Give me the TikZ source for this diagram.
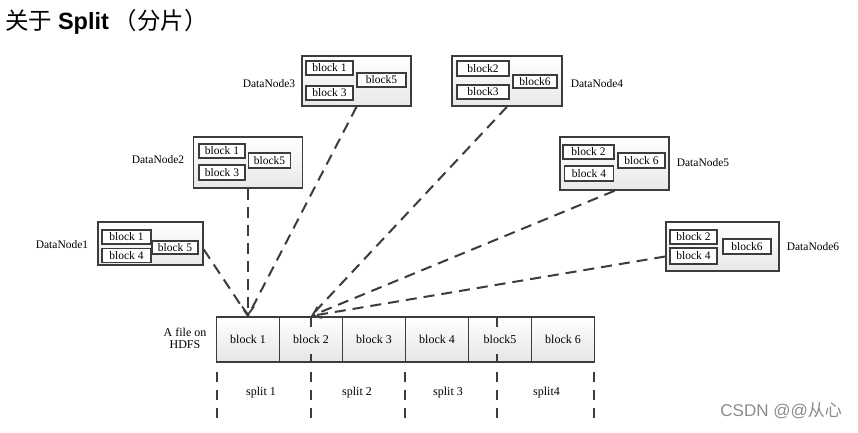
\documentclass[tikz,border=0pt]{standalone}
\usepackage{fontspec}
\setmainfont{Liberation Serif}
\newfontfamily\cjk{Noto Sans CJK SC}
\newfontfamily\arial{Liberation Sans}
\usetikzlibrary{arrows.meta}
\definecolor{edge}{HTML}{3C3C3C}
\tikzset{
 dnbox/.style={draw=edge, line width=1.6pt, top color=white, bottom color=black!9, inner sep=0pt},
 inblk/.style={draw=edge, line width=1.4pt, fill=white, inner sep=0pt, font=\fontsize{11.5}{11.5}\selectfont},
 fblk/.style={draw=edge, line width=1.5pt, top color=white, bottom color=black!10, inner sep=0pt, minimum width=63pt, minimum height=45pt, font=\fontsize{12}{12}\selectfont},
 dnlabel/.style={font=\fontsize{11.5}{11.5}\selectfont, inner sep=0pt},
 splitlabel/.style={font=\fontsize{12}{12}\selectfont, inner sep=0pt},
 conn/.style={draw=edge, line width=2pt, dash pattern=on 11pt off 7pt},
 tip/.style={-{Straight Barb[length=8pt,width=12pt,line width=1.8pt]}},
 splitline/.style={draw=edge, line width=2pt, dash pattern=on 10pt off 8pt},
 tick/.style={draw=edge, line width=2pt},
}
\begin{document}
\begin{tikzpicture}[x=1pt,y=-1pt]
\useasboundingbox (0,0) rectangle (858,433);
\fill[white] (0,0) rectangle (858,433);

% title
\node[anchor=base west, inner sep=0pt, font=\fontsize{23.5}{23.5}\selectfont] (title) at (5,30)
  {{\cjk 关于} {\arial\bfseries Split}\hspace{5pt}{\cjk （分片）}};

% DataNode1
\node[dnbox, minimum width=105pt, minimum height=43pt] (dn1) at (150.5,243.5) {};
\node[inblk, minimum width=49pt, minimum height=14pt] (dn1a) at (126.5,237) {block 1};
\node[inblk, minimum width=49pt, minimum height=14pt] (dn1b) at (126.5,255.5) {block 4};
\node[inblk, minimum width=46pt, minimum height=13pt] (dn1c) at (175,247.5) {block 5};
\node[dnlabel] (l1) at (62,245) {DataNode1};

% DataNode2
\node[dnbox, minimum width=109pt, minimum height=51pt] (dn2) at (248,162.5) {};
\node[inblk, minimum width=46pt, minimum height=14pt] (dn2a) at (222,151) {block 1};
\node[inblk, minimum width=46pt, minimum height=15pt] (dn2b) at (222,172.5) {block 3};
\node[inblk, minimum width=42pt, minimum height=15pt] (dn2c) at (269.5,160.5) {block5};
\node[dnlabel] (l2) at (158,160) {DataNode2};

% DataNode3
\node[dnbox, minimum width=109pt, minimum height=50pt] (dn3) at (356.5,81) {};
\node[inblk, minimum width=47pt, minimum height=14pt] (dn3a) at (329.5,68) {block 1};
\node[inblk, minimum width=47pt, minimum height=14pt] (dn3b) at (329.5,93) {block 3};
\node[inblk, minimum width=49pt, minimum height=14pt] (dn3c) at (381.5,80) {block5};
\node[dnlabel] (l3) at (269,84) {DataNode3};

% DataNode4
\node[dnbox, minimum width=110pt, minimum height=50pt] (dn4) at (507,81) {};
\node[inblk, minimum width=52pt, minimum height=15pt] (dn4a) at (483,68.5) {block2};
\node[inblk, minimum width=52pt, minimum height=14pt] (dn4b) at (483,92) {block3};
\node[inblk, minimum width=44pt, minimum height=13pt] (dn4c) at (535,81.5) {block6};
\node[dnlabel] (l4) at (597,84) {DataNode4};

% DataNode5
\node[dnbox, minimum width=109pt, minimum height=53pt] (dn5) at (614.5,163.5) {};
\node[inblk, minimum width=51pt, minimum height=14pt] (dn5a) at (588.5,152) {block 2};
\node[inblk, minimum width=49pt, minimum height=15pt] (dn5b) at (589,173.5) {block 4};
\node[inblk, minimum width=47pt, minimum height=15pt] (dn5c) at (641.5,160.5) {block 6};
\node[dnlabel] (l5) at (703,163) {DataNode5};

% DataNode6
\node[dnbox, minimum width=113pt, minimum height=49pt] (dn6) at (722.5,246.5) {};
\node[inblk, minimum width=47pt, minimum height=14pt] (dn6a) at (693.5,237) {block 2};
\node[inblk, minimum width=47pt, minimum height=16pt] (dn6b) at (693.5,256) {block 4};
\node[inblk, minimum width=48pt, minimum height=15pt] (dn6c) at (747,246.5) {block6};
\node[dnlabel] (l6) at (813,247) {DataNode6};

% file row
\node[fblk] (f1) at (248,339.5) {block 1};
\node[fblk] (f2) at (311,339.5) {block 2};
\node[fblk] (f3) at (374,339.5) {block 3};
\node[fblk] (f4) at (437,339.5) {block 4};
\node[fblk] (f5) at (500,339.5) {block5};
\node[fblk] (f6) at (563,339.5) {block 6};
\node[splitlabel, align=center] (hdfs) at (185,338) {A file on\\HDFS};

% connectors
\coordinate (t1) at (248,316);
\coordinate (t2) at (311,316);
\draw[conn] ([yshift=-6pt]dn1.east) -- (t1);
\draw[conn, tip] (dn2.south) -- (t1);
\draw[conn] (dn3.south) -- (t1);
\draw[conn] (dn4.south) -- (t2);
\draw[conn, tip] (dn5.south) -- (t2);
\draw[conn] ([yshift=-10pt]dn6.west) -- (t2);

% split marks through blocks
\draw[tick] (f2.north) -- ++(0,11);
\draw[tick] (f2.south) -- ++(0,-9);
\draw[tick] ([xshift=-3pt]f5.north) -- ++(0,11);
\draw[tick] ([xshift=-3pt]f5.south) -- ++(0,-9);

% split lines
\coordinate (s0) at (217,372);
\coordinate (s1) at (311,372);
\coordinate (s2) at (405,372);
\coordinate (s3) at (497,372);
\coordinate (s4) at (594,372);
\foreach \s in {s0,s1,s2,s3,s4} \draw[splitline] (\s) -- ++(0,48);

\node[splitlabel] (sp1) at (261,393) {split 1};
\node[splitlabel] (sp2) at (357,393) {split 2};
\node[splitlabel] (sp3) at (448,393) {split 3};
\node[splitlabel] (sp4) at (546.5,393) {split4};

% watermark
\node[anchor=base east, inner sep=0pt, text=black!45, font=\fontsize{17}{17}\selectfont] (wm) at (842,416) {{\arial CSDN @@}{\cjk 从心}};
\end{tikzpicture}
\end{document}
